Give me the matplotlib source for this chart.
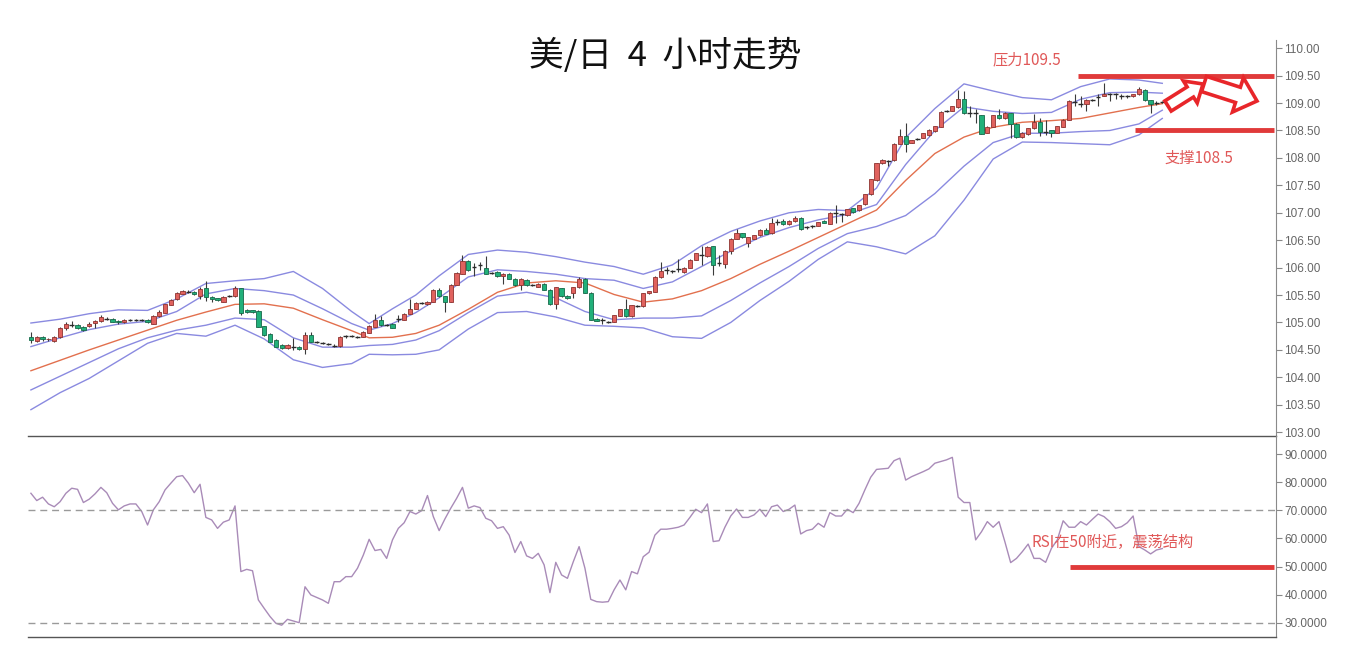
import matplotlib
matplotlib.use("Agg")
import matplotlib.pyplot as plt
from matplotlib.patches import FancyArrow
from matplotlib.transforms import IdentityTransform
from matplotlib.ticker import FormatStrFormatter
import numpy as np

# 4h candles, USD/JPY
opens = [104.74, 104.67, 104.74, 104.69, 104.67, 104.74, 104.89, 104.96, 104.95, 104.92,
         104.93, 104.99, 105.03, 105.07, 105.07, 105.03, 105.00, 105.05, 105.04, 105.04,
         105.05, 104.98, 105.12, 105.18, 105.32, 105.42, 105.52, 105.56, 105.56, 105.49,
         105.62, 105.47, 105.44, 105.38, 105.48, 105.48, 105.62, 105.22, 105.22, 105.21,
         104.93, 104.79, 104.68, 104.59, 104.53, 104.56, 104.56, 104.51, 104.77, 104.65,
         104.63, 104.61, 104.58, 104.57, 104.75, 104.75, 104.74, 104.74, 104.81, 104.92,
         105.04, 104.96, 104.98, 105.07, 105.05, 105.16, 105.25, 105.36, 105.33, 105.38,
         105.60, 105.48, 105.38, 105.69, 105.89, 106.12, 106.01, 106.04, 105.99, 105.90,
         105.92, 105.84, 105.89, 105.80, 105.68, 105.78, 105.68, 105.65, 105.71, 105.60,
         105.33, 105.62, 105.49, 105.53, 105.64, 105.80, 105.54, 105.07, 105.04, 105.01,
         105.01, 105.12, 105.24, 105.11, 105.30, 105.30, 105.53, 105.56, 105.82, 105.95,
         105.94, 105.97, 105.92, 106.00, 106.14, 106.23, 106.21, 106.39, 106.09, 106.06,
         106.31, 106.53, 106.63, 106.45, 106.53, 106.59, 106.69, 106.63, 106.83, 106.85,
         106.79, 106.85, 106.91, 106.74, 106.76, 106.76, 106.85, 106.80, 106.99, 106.97,
         106.96, 107.08, 107.05, 107.16, 107.34, 107.59, 107.90, 107.95, 107.96, 108.26,
         108.40, 108.28, 108.35, 108.37, 108.41, 108.49, 108.57, 108.86, 108.86, 108.92,
         109.08, 108.81, 108.81, 108.78, 108.46, 108.57, 108.78, 108.72, 108.81, 108.62,
         108.38, 108.43, 108.54, 108.66, 108.48, 108.50, 108.46, 108.57, 108.70, 109.02,
         108.99, 108.99, 109.05, 109.11, 109.13, 109.17, 109.16, 109.12, 109.12, 109.12,
         109.16, 109.24, 109.05, 109.00, 109.02]
closes = [104.68, 104.73, 104.69, 104.70, 104.74, 104.89, 104.97, 104.96, 104.90, 104.86,
          104.98, 105.03, 105.10, 105.07, 105.01, 105.00, 105.05, 105.05, 105.04, 105.04,
          105.00, 105.12, 105.19, 105.33, 105.41, 105.53, 105.58, 105.56, 105.51, 105.61,
          105.47, 105.43, 105.41, 105.47, 105.48, 105.62, 105.18, 105.19, 105.19, 104.92,
          104.77, 104.65, 104.56, 104.53, 104.59, 104.56, 104.51, 104.77, 104.65, 104.65,
          104.63, 104.61, 104.58, 104.73, 104.75, 104.75, 104.74, 104.83, 104.93, 105.04,
          104.95, 104.96, 104.90, 105.07, 105.16, 105.25, 105.35, 105.36, 105.38, 105.60,
          105.48, 105.38, 105.69, 105.90, 106.12, 105.95, 106.01, 106.04, 105.89, 105.90,
          105.84, 105.89, 105.80, 105.68, 105.80, 105.68, 105.68, 105.71, 105.60, 105.33,
          105.64, 105.48, 105.44, 105.64, 105.80, 105.54, 105.05, 105.03, 105.04, 105.01,
          105.13, 105.24, 105.11, 105.31, 105.30, 105.53, 105.57, 105.83, 105.94, 105.95,
          105.94, 105.97, 106.00, 106.14, 106.26, 106.23, 106.38, 106.04, 106.09, 106.31,
          106.53, 106.63, 106.55, 106.55, 106.59, 106.69, 106.62, 106.82, 106.83, 106.79,
          106.85, 106.91, 106.70, 106.74, 106.76, 106.83, 106.82, 107.00, 106.99, 106.97,
          107.06, 107.02, 107.14, 107.34, 107.61, 107.90, 107.97, 107.95, 108.26, 108.40,
          108.25, 108.32, 108.35, 108.45, 108.51, 108.58, 108.84, 108.86, 108.94, 109.08,
          108.81, 108.81, 108.81, 108.44, 108.57, 108.78, 108.72, 108.82, 108.62, 108.38,
          108.46, 108.54, 108.66, 108.48, 108.48, 108.46, 108.58, 108.70, 109.04, 109.02,
          108.99, 109.06, 109.05, 109.11, 109.17, 109.17, 109.16, 109.12, 109.12, 109.16,
          109.25, 109.05, 108.99, 109.00, 109.02]
highs = [104.83, 104.76, 104.76, 104.72, 104.76, 104.92, 105.00, 105.02, 104.97, 104.93,
         105.00, 105.05, 105.14, 105.10, 105.08, 105.04, 105.06, 105.07, 105.07, 105.06,
         105.06, 105.13, 105.22, 105.34, 105.43, 105.56, 105.60, 105.60, 105.57, 105.64,
         105.76, 105.48, 105.45, 105.48, 105.50, 105.66, 105.63, 105.24, 105.23, 105.22,
         104.94, 104.80, 104.69, 104.60, 104.60, 104.71, 104.57, 104.82, 104.82, 104.67,
         104.65, 104.63, 104.60, 104.75, 104.78, 104.77, 104.76, 104.85, 104.95, 105.16,
         105.11, 104.98, 104.99, 105.13, 105.17, 105.42, 105.37, 105.38, 105.39, 105.61,
         105.62, 105.49, 105.70, 105.92, 106.23, 106.13, 106.08, 106.10, 106.21, 105.92,
         105.93, 105.90, 105.90, 105.81, 105.81, 105.79, 105.70, 105.72, 105.72, 105.61,
         105.65, 105.63, 105.50, 105.65, 105.82, 105.81, 105.55, 105.08, 105.09, 105.03,
         105.14, 105.25, 105.43, 105.32, 105.32, 105.54, 105.58, 105.84, 106.11, 106.02,
         105.96, 106.15, 106.01, 106.15, 106.27, 106.39, 106.39, 106.40, 106.23, 106.32,
         106.54, 106.70, 106.64, 106.56, 106.60, 106.70, 106.72, 106.90, 106.88, 106.89,
         106.86, 106.95, 106.93, 106.76, 106.78, 106.84, 106.86, 107.01, 107.14, 107.00,
         107.07, 107.09, 107.15, 107.35, 107.62, 107.91, 107.98, 107.97, 108.27, 108.52,
         108.64, 108.33, 108.37, 108.46, 108.52, 108.59, 108.85, 108.88, 108.95, 109.24,
         109.22, 108.95, 108.90, 108.79, 108.58, 108.79, 108.90, 108.83, 108.82, 108.63,
         108.47, 108.55, 108.80, 108.72, 108.69, 108.51, 108.59, 108.71, 109.05, 109.16,
         109.12, 109.07, 109.07, 109.16, 109.36, 109.19, 109.18, 109.16, 109.14, 109.17,
         109.30, 109.25, 109.06, 109.03, 109.04]
lows = [104.62, 104.64, 104.67, 104.66, 104.65, 104.72, 104.87, 104.92, 104.88, 104.84,
        104.91, 104.90, 105.00, 105.04, 105.00, 104.98, 104.99, 105.03, 105.02, 105.02,
        104.99, 104.97, 105.10, 105.17, 105.31, 105.41, 105.51, 105.53, 105.50, 105.42,
        105.40, 105.37, 105.39, 105.37, 105.47, 105.47, 105.14, 105.17, 105.18, 104.91,
        104.76, 104.64, 104.55, 104.51, 104.52, 104.50, 104.50, 104.43, 104.64, 104.63,
        104.61, 104.59, 104.56, 104.55, 104.71, 104.73, 104.72, 104.73, 104.80, 104.91,
        104.94, 104.94, 104.89, 105.01, 105.04, 105.15, 105.24, 105.34, 105.32, 105.37,
        105.47, 105.19, 105.37, 105.68, 105.88, 105.94, 105.84, 105.96, 105.88, 105.88,
        105.83, 105.71, 105.79, 105.67, 105.60, 105.67, 105.66, 105.64, 105.59, 105.32,
        105.25, 105.47, 105.43, 105.44, 105.63, 105.53, 105.04, 105.02, 104.97, 104.99,
        105.00, 105.11, 105.10, 105.10, 105.28, 105.29, 105.52, 105.55, 105.81, 105.89,
        105.90, 105.92, 105.91, 105.99, 106.13, 106.04, 106.20, 105.86, 106.03, 106.00,
        106.24, 106.52, 106.54, 106.38, 106.52, 106.58, 106.61, 106.62, 106.78, 106.78,
        106.78, 106.84, 106.69, 106.70, 106.73, 106.75, 106.81, 106.79, 106.82, 106.84,
        106.95, 107.00, 107.04, 107.14, 107.33, 107.58, 107.89, 107.85, 107.95, 108.25,
        108.11, 108.27, 108.33, 108.36, 108.40, 108.48, 108.56, 108.84, 108.85, 108.91,
        108.80, 108.75, 108.64, 108.43, 108.45, 108.56, 108.71, 108.71, 108.36, 108.37,
        108.37, 108.42, 108.53, 108.40, 108.42, 108.38, 108.45, 108.56, 108.69, 108.94,
        108.93, 108.86, 109.03, 108.94, 109.12, 109.03, 109.07, 109.08, 109.10, 109.11,
        109.15, 109.04, 108.81, 108.97, 109.00]

# band lines read at these candle positions
band_idx = [0, 5, 10, 15, 20, 25, 30, 35, 40, 45, 50, 55, 58, 62, 66, 70, 75, 80, 85, 90,
            95, 100, 105, 110, 115, 120, 125, 130, 135, 140, 145, 150, 155, 160, 165, 170,
            175, 180, 185, 190, 194]
mid = [104.12, 104.31, 104.50, 104.68, 104.86, 105.04, 105.19, 105.33, 105.34, 105.26,
       105.05, 104.85, 104.72, 104.73, 104.80, 104.95, 105.24, 105.55, 105.72, 105.76,
       105.72, 105.51, 105.37, 105.43, 105.58, 105.80, 106.06, 106.30, 106.55, 106.80,
       107.05, 107.59, 108.08, 108.38, 108.56, 108.65, 108.68, 108.72, 108.82, 108.92, 108.99]
upper2 = [104.99, 105.06, 105.16, 105.23, 105.22, 105.43, 105.71, 105.76, 105.80, 105.93,
          105.62, 105.20, 104.98, 105.25, 105.50, 105.85, 106.24, 106.32, 106.28, 106.20,
          106.10, 106.02, 105.88, 106.05, 106.40, 106.66, 106.85, 107.00, 107.06, 107.04,
          107.45, 108.37, 108.90, 109.35, 109.22, 109.10, 109.06, 109.30, 109.44, 109.42, 109.36]
upper1 = [104.56, 104.72, 104.87, 104.97, 105.02, 105.20, 105.52, 105.62, 105.58, 105.50,
          105.25, 104.98, 104.86, 104.98, 105.18, 105.45, 105.83, 105.96, 105.93, 105.88,
          105.80, 105.77, 105.62, 105.74, 106.02, 106.30, 106.55, 106.73, 106.87, 106.97,
          107.15, 107.88, 108.50, 108.93, 108.85, 108.81, 108.83, 109.07, 109.19, 109.20, 109.18]
lower1 = [103.77, 104.02, 104.27, 104.52, 104.72, 104.86, 104.95, 105.08, 105.05, 104.72,
          104.55, 104.55, 104.58, 104.60, 104.68, 104.85, 105.18, 105.48, 105.55, 105.45,
          105.20, 105.05, 105.08, 105.08, 105.12, 105.40, 105.72, 106.02, 106.35, 106.62,
          106.75, 106.95, 107.35, 107.85, 108.28, 108.45, 108.45, 108.48, 108.50, 108.62, 108.87]
lower2 = [103.41, 103.72, 103.98, 104.30, 104.62, 104.80, 104.75, 104.95, 104.70, 104.32,
          104.18, 104.25, 104.42, 104.41, 104.42, 104.50, 104.88, 105.18, 105.20, 105.10,
          104.95, 104.93, 104.90, 104.74, 104.71, 105.00, 105.40, 105.75, 106.15, 106.47,
          106.38, 106.25, 106.58, 107.23, 107.98, 108.29, 108.28, 108.26, 108.24, 108.42, 108.72]

rsi = [76.1, 73.5, 74.7, 72.3, 71.3, 73.1, 76.1, 77.9, 77.5, 72.8,
       74.0, 75.9, 78.2, 76.3, 72.5, 70.2, 71.6, 72.3, 72.3, 69.6,
       64.8, 70.2, 73.1, 77.3, 79.7, 82.0, 82.4, 79.7, 76.3, 79.3,
       67.5, 66.6, 63.6, 65.8, 66.6, 71.6, 48.2, 49.0, 48.5, 38.1,
       35.1, 32.2, 29.8, 29.1, 31.2, 30.6, 30.0, 42.8, 39.9, 39.0,
       38.1, 36.9, 44.6, 44.6, 46.4, 46.4, 49.4, 54.1, 59.7, 55.7,
       56.1, 52.9, 59.5, 63.6, 65.6, 69.6, 68.7, 69.9, 75.3, 67.8,
       62.8, 67.0,
       70.8, 74.3, 78.2, 70.8, 71.6, 71.0, 67.2, 66.3, 63.6, 64.2,
       61.2, 55.0, 58.9, 53.8, 52.9, 54.7, 50.6, 40.7, 51.5, 47.0,
       45.8, 51.7, 57.1, 49.4, 38.3, 37.5, 37.3, 37.5, 41.7, 45.2,
       41.7, 48.2, 47.4, 53.5, 55.1, 61.2, 63.3, 63.3, 63.6, 64.0,
       64.8, 67.5, 70.4, 69.2, 72.3, 58.9, 59.2, 64.0, 68.0, 70.5,
       67.5, 67.5, 68.4, 70.4, 67.8, 71.3, 71.9, 69.6, 70.4, 71.9,
       61.6, 62.8, 63.3, 65.4, 64.0, 69.2, 68.0, 68.0, 70.4, 69.2,
       72.5, 77.3, 81.8, 84.6, 84.8, 85.0,
       87.7, 88.6, 80.8, 82.0, 82.9, 83.8, 84.8, 86.8, 87.4, 88.0,
       88.9, 74.7, 72.8, 72.8, 59.5, 62.4, 66.0, 64.0, 66.0, 58.9,
       51.4, 52.9, 55.3, 58.0, 52.9, 52.9, 51.5, 56.5, 59.5, 66.3,
       64.0, 64.0, 66.0, 64.8, 66.8, 68.7, 67.8, 66.0, 63.6, 64.2,
       65.6, 68.0, 57.1, 55.9, 54.5, 55.9, 56.4]

resistance = 109.5
support = 108.5
rsi_mark = 50
rsi_levels = [70, 30]

RED = "#e03a3a"
TXT_RED = "#e05858"

plt.rcParams['font.family'] = ['Liberation Sans', 'Noto Sans CJK SC', 'DejaVu Sans']

W, H = 1349, 655
fig = plt.figure(figsize=(W / 100, H / 100), dpi=100)
ax = fig.add_axes([28 / W, 1 - 436 / H, 1248 / W, 396 / H])
ax2 = fig.add_axes([28 / W, 1 - 637 / H, 1248 / W, 201 / H], sharex=ax)
ax2.patch.set_visible(False)

x = np.arange(len(opens))
o = np.array(opens)
c = np.array(closes)
up = c > o
down = c < o
flat = c == o

ax.vlines(x, lows, highs, color="#3a3a3a", lw=0.8, zorder=2)
ax.bar(x[up], (c - o)[up], bottom=o[up], width=0.74, color="#e0625e",
       edgecolor="#8e3330", lw=0.6, zorder=3)
ax.bar(x[down], (o - c)[down], bottom=c[down], width=0.74, color="#21b07a",
       edgecolor="#17694a", lw=0.6, zorder=3)
ax.hlines(o[flat], x[flat] - 0.4, x[flat] + 0.4, color="#2a2a2a", lw=1.0, zorder=3)

ax.plot(band_idx, upper2, color="#8a8ae0", lw=1.0, zorder=1)
ax.plot(band_idx, upper1, color="#8a8ae0", lw=1.0, zorder=1)
ax.plot(band_idx, lower1, color="#8a8ae0", lw=1.0, zorder=1)
ax.plot(band_idx, lower2, color="#8a8ae0", lw=1.0, zorder=1)
ax.plot(band_idx, mid, color="#e2704e", lw=1.0, zorder=1)

ax.hlines(resistance, 179.6, 213.2, color=RED, lw=3.5, zorder=4)
ax.hlines(support, 189.4, 213.2, color=RED, lw=3.5, zorder=4)

ax.set_xlim(-0.5, 213.5)
ax.set_ylim(102.93, 110.15)
ax.set_yticks(np.arange(103.0, 110.01, 0.5))
ax.yaxis.set_major_formatter(FormatStrFormatter("%.2f"))

ax2.plot(x, rsi, color="#a98bb8", lw=1.0)
for lv in rsi_levels:
    ax2.axhline(lv, color="#9a9a9a", lw=1.0, ls=(0, (5, 3.5)))
ax2.hlines(rsi_mark, 178.2, 213.2, color=RED, lw=3.5)
ax2.set_ylim(24.9, 96.5)
ax2.set_yticks(np.arange(30, 91, 10))
ax2.yaxis.set_major_formatter(FormatStrFormatter("%.4f"))

for a in (ax, ax2):
    a.yaxis.tick_right()
    a.tick_params(axis="y", direction="out", length=4, width=0.8, color="#888888",
                  labelcolor="#666666", labelsize=8.5, pad=2)
    a.tick_params(axis="x", bottom=False, labelbottom=False)
    a.spines["left"].set_visible(False)
    a.spines["top"].set_visible(False)
    a.spines["right"].set_color("#8a8a8a")
    a.spines["bottom"].set_color("#555555")
    a.spines["bottom"].set_linewidth(1.0)
ax.spines["bottom"].set_zorder(10)

cjk = ['Noto Sans CJK SC', 'DejaVu Sans']
fig.text(665 / W, 1 - 56 / H, "美/日  4  小时走势", ha="center", va="center",
         fontsize=25, color="#111111", family=cjk)
ax.text(170.8, 109.78, "压力109.5", ha="center", va="center", fontsize=11,
        color=TXT_RED, family=cjk)
ax.text(200.3, 108.0, "支撑108.5", ha="center", va="center", fontsize=11,
        color=TXT_RED, family=cjk)
ax2.text(185.5, 58.6, "RSI在50附近，震荡结构", ha="center", va="center", fontsize=11,
         color=TXT_RED, family=cjk)

# hollow arrows pointing past the range
pix = IdentityTransform()
fig.patches.append(FancyArrow(1168, H - 106, 35, 22, width=12, head_width=26,
                              head_length=15, length_includes_head=True,
                              facecolor="white", edgecolor="#e8262a", lw=2.6,
                              transform=pix, figure=fig))
fig.patches.append(FancyArrow(1204, H - 84, 53, -17, width=16, head_width=36,
                              head_length=20, length_includes_head=True,
                              facecolor="white", edgecolor="#e8262a", lw=2.6,
                              transform=pix, figure=fig))

fig.savefig("out.png", dpi=100, facecolor="white")
